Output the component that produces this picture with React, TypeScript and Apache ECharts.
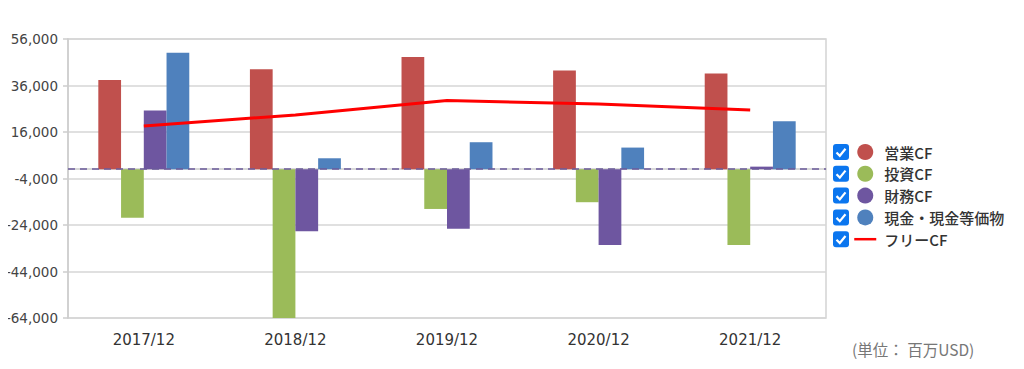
import React, { useEffect, useRef } from "react";
import * as echarts from "echarts";

const categories = ["2017/12", "2018/12", "2019/12", "2020/12", "2021/12"];
const seriesNames = ["営業CF", "投資CF", "財務CF", "現金・現金等価物", "フリーCF"];
const operatingCF = [38400, 43000, 48300, 42400, 41200];
const investingCF = [-20900, -66000, -17100, -14200, -32600];
const financingCF = [25300, -26700, -25600, -32600, 1100];
const cashEq = [50100, 4700, 11600, 9300, 20600];
const freeCF = [18600, 23300, 29500, 28000, 25500];
const unitLabel = "(単位： 百万USD)";

const colors = ["#c0504d", "#9bbb59", "#6e56a0", "#4f81bd", "#ff0000"];
const FONT = "DejaVu Sans, Verdana, sans-serif";
const JP = "'Noto Sans CJK JP', sans-serif";

export default function App() {
  const ref = useRef<HTMLDivElement>(null);
  useEffect(() => {
    if (!ref.current) return;
    const chart = echarts.init(ref.current, undefined, { renderer: "svg" });
    const legendTop = 144;
    const rowPitch = 21.8;
    const checkboxes = seriesNames.map((_, i) => ({
      type: "group",
      x: 833,
      y: legendTop + i * rowPitch,
      children: [
        { type: "rect", shape: { x: 0, y: 0, width: 16, height: 16, r: 3 }, style: { fill: "#0b76ef" } },
        {
          type: "polyline",
          shape: { points: [[3.5, 8.5], [6.8, 11.8], [12.5, 4.8]] },
          style: { stroke: "#ffffff", lineWidth: 2.2, fill: "none" },
        },
      ],
    }));
    const barData = [operatingCF, investingCF, financingCF, cashEq];
    const bars = barData.map((d, i) => ({
      name: seriesNames[i],
      type: "bar",
      data: d,
      barGap: "0%",
      barCategoryGap: "40%",
      itemStyle: { color: colors[i] },
      ...(i === 0
        ? {
            markLine: {
              silent: true,
              symbol: "none",
              label: { show: false },
              lineStyle: { color: "#6b5b9a", type: [7, 5], width: 1.5 },
              data: [{ yAxis: 0 }],
            },
          }
        : {}),
    }));
    chart.setOption({
      animation: false,
      grid: {
        left: 68,
        right: 198,
        top: 39,
        bottom: 51,
        show: true,
        borderColor: "#d3d3d3",
        borderWidth: 1.5,
      },
      legend: {
        orient: "vertical",
        left: 848,
        top: legendTop - 5,
        itemWidth: 22,
        itemHeight: 16,
        itemGap: rowPitch - 16,
        selectedMode: false,
        textStyle: {
          fontFamily: JP,
          fontSize: 15,
          lineHeight: 16,
          color: "#333",
          fontWeight: 500,
          padding: [0, 0, 0, 3],
        },
        data: seriesNames.map((n, i) =>
          i < 4
            ? { name: n, icon: "circle" }
            : { name: n, itemStyle: { opacity: 0 }, lineStyle: { width: 2.5, color: colors[4] } }
        ),
      },
      xAxis: {
        type: "category",
        data: categories,
        axisLine: { lineStyle: { color: "#cccccc", width: 1.5 } },
        axisTick: { inside: true, length: 9, lineStyle: { color: "#cccccc", width: 1.5 } },
        axisLabel: { fontFamily: FONT, fontSize: 15, color: "#333", margin: 14 },
      },
      yAxis: {
        type: "value",
        min: -64000,
        max: 56000,
        interval: 20000,
        axisLine: { show: true, lineStyle: { color: "#cccccc", width: 1.5 } },
        axisTick: { show: true, length: 5, lineStyle: { color: "#cccccc", width: 1.5 } },
        splitLine: { lineStyle: { color: "#d6d6d6", width: 1.5 } },
        axisLabel: {
          fontFamily: FONT,
          fontSize: 13.5,
          color: "#444",
          margin: 10,
          formatter: (v: number) => v.toLocaleString("en-US"),
        },
      },
      graphic: [
        ...checkboxes,
        {
          type: "text",
          left: 852,
          top: 341,
          style: { text: unitLabel, fontFamily: JP, fontSize: 15.5, fill: "#777" },
        },
      ],
      series: [
        ...bars,
        {
          name: seriesNames[4],
          type: "line",
          data: freeCF,
          symbol: "none",
          lineStyle: { color: colors[4], width: 3 },
          itemStyle: { color: colors[4] },
          z: 5,
        },
      ],
    });
    return () => chart.dispose();
  }, []);
  return <div ref={ref} style={{ width: 1024, height: 369, margin: -8 }} />;
}
